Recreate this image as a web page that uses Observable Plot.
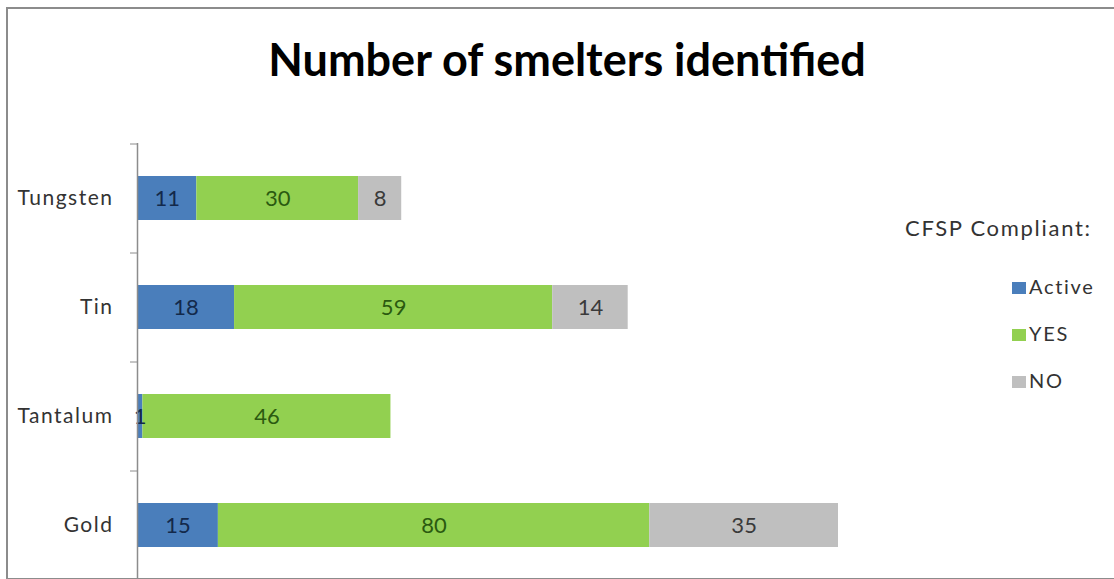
<!DOCTYPE html>
<html>
<head>
<meta charset="utf-8">
<script src="https://cdn.jsdelivr.net/npm/d3@7"></script>
<script src="https://cdn.jsdelivr.net/npm/@observablehq/plot@0.6"></script>
<style>
  html, body { margin: 0; padding: 0; background: #fff; }
  #wrap { position: relative; width: 1114px; height: 579px; overflow: hidden; font-family: Lato, "Open Sans", sans-serif; }
  #border { position: absolute; left: 6px; top: 7px; width: 1200px; height: 569px; border-left: 2px solid #8c8c8c; border-top: 2px solid #8c8c8c; border-bottom: 2px solid #8c8c8c; }
  #title { position: absolute; left: 0; width: 1134px; top: 32px; text-align: center; font-size: 45px; font-weight: 700; color: #000; line-height: 1.2; }
  #legend { position: absolute; left: 905px; top: 214px; color: #333; letter-spacing: 1.7px; }
  #legend .head { font-size: 22px; white-space: nowrap; }
  #legend .item { position: absolute; left: 107px; font-size: 20px; white-space: nowrap; }
  #legend .sw { display: inline-block; width: 14px; height: 12px; margin-right: 3px; vertical-align: 0px; }
  #plot { position: absolute; left: 0; top: 0; }
</style>
</head>
<body>
<div id="wrap">
  <div id="plot"></div>
  <div id="border"></div>
  <div id="title">Number of smelters identified</div>
  <div id="legend"></div>
</div>
<script>
const categories = ["Tungsten", "Tin", "Tantalum", "Gold"];
const series = ["Active", "YES", "NO"];
const activeValues = [11, 18, 1, 15];
const yesValues = [30, 59, 46, 80];
const noValues = [8, 14, 0, 35];
const seriesColors = ["#4A7EBB", "#92D050", "#BFBFBF"];
const labelColors = ["#13294b", "#2b5a10", "#3a3a3a"];
const legendTitle = "CFSP Compliant:";

const valuesBySeries = [activeValues, yesValues, noValues];
const data = [];
categories.forEach((c, i) => {
  series.forEach((s, j) => {
    data.push({category: c, series: s, value: valuesBySeries[j][i]});
  });
});

const stackOpts = {x: "value", y: "category", z: "series", order: series};

const textMarks = series.map((s, j) =>
  Plot.text(data, Plot.stackX({
    ...stackOpts,
    text: d => (d.series === s && d.value > 0) ? String(d.value) : "",
    fill: labelColors[j],
    fontSize: 22,
    fontFamily: "Lato, sans-serif"
  }))
);

const chart = Plot.plot({
  width: 1114,
  height: 579,
  marginTop: 143,
  marginBottom: 0,
  marginLeft: 137,
  marginRight: 0,
  style: {fontFamily: "Lato, sans-serif", background: "transparent"},
  x: {domain: [0, 130], range: [137, 838], axis: null},
  y: {domain: categories, paddingInner: 0.6, paddingOuter: 0.3, axis: null, label: null},
  color: {domain: series, range: seriesColors},
  marks: [
    Plot.barX(data, Plot.stackX({...stackOpts, fill: "series"})),
    ...textMarks,
    Plot.axisY({tickSize: 0, tickPadding: 24, fontSize: 21, fill: "#333", stroke: null, label: null}),
    Plot.axisY({tickSize: 7, text: null, stroke: "#8c8c8c", dy: -54.5, label: null}),
    Plot.ruleX([0], {stroke: "#8c8c8c", strokeWidth: 1.5})
  ]
});
d3.select(chart).selectAll("g[aria-label='y-axis tick label'] text").style("letter-spacing", "1.5px");
document.getElementById("plot").appendChild(chart);

// legend
const legend = document.getElementById("legend");
const head = document.createElement("div");
head.className = "head";
head.textContent = legendTitle;
legend.appendChild(head);
series.forEach((s, j) => {
  const item = document.createElement("div");
  item.className = "item";
  item.style.top = (60 + j * 47) + "px";
  const sw = document.createElement("span");
  sw.className = "sw";
  sw.style.background = seriesColors[j];
  item.appendChild(sw);
  item.appendChild(document.createTextNode(s));
  legend.appendChild(item);
});
</script>
</body>
</html>
